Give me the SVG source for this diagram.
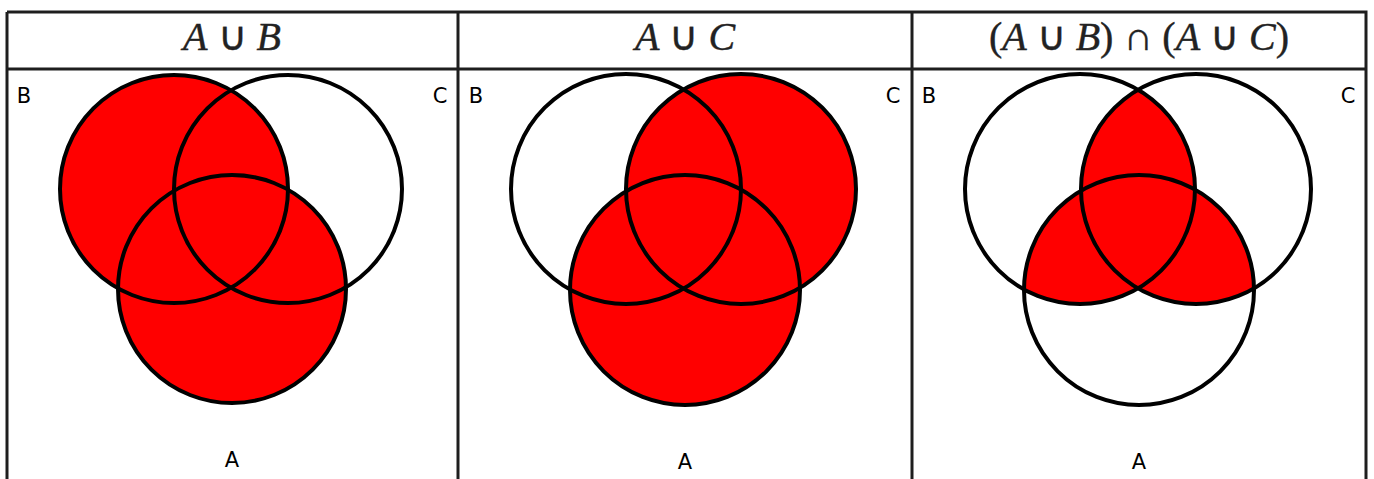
<svg xmlns="http://www.w3.org/2000/svg" width="1374" height="479" viewBox="0 0 1374 479">
<style>
.bg{fill:#fff}
.grid{stroke:#1e1e1e;stroke-width:3;fill:none}
.ring{fill:none;stroke:#000;stroke-width:4}
.red{fill:#ff0000}
.lbl{font-family:"DejaVu Sans",sans-serif;font-size:21px;fill:#000;text-anchor:middle}
.ttl{font-family:"Liberation Serif",serif;font-size:40px;fill:#222;stroke:#222;stroke-width:0.4;text-anchor:middle}
.it{font-style:italic}
</style>
<defs>
<clipPath id="p3A"><circle cx="1139" cy="290" r="115"/></clipPath>
<clipPath id="p3C"><circle cx="1196" cy="189" r="115"/></clipPath>
</defs>
<rect class="bg" x="0" y="0" width="1374" height="479"/>
<g id="table">
<path class="grid" d="M7,12H1366V479M7,12V479M7,69H1366M458,12V479M912,12V479"/>
</g>
<g id="titles">
<text class="ttl" x="232" y="50"><tspan class="it">A</tspan> ∪ <tspan class="it">B</tspan></text>
<text class="ttl" x="685" y="50"><tspan class="it">A</tspan> ∪ <tspan class="it">C</tspan></text>
<text class="ttl" x="1139" y="50">(<tspan class="it">A</tspan> ∪ <tspan class="it">B</tspan>) ∩ (<tspan class="it">A</tspan> ∪ <tspan class="it">C</tspan>)</text>
</g>
<g id="panel1">
<circle class="red" cx="174" cy="189" r="114"/>
<circle class="red" cx="232" cy="289" r="114"/>
<circle class="ring" cx="174" cy="189" r="114"/>
<circle class="ring" cx="288" cy="189" r="114"/>
<circle class="ring" cx="232" cy="289" r="114"/>
<text class="lbl" x="24" y="103">B</text>
<text class="lbl" x="440" y="103">C</text>
<text class="lbl" x="232" y="467">A</text>
</g>
<g id="panel2">
<circle class="red" cx="741" cy="189" r="115"/>
<circle class="red" cx="685" cy="290" r="115"/>
<circle class="ring" cx="626" cy="189" r="115"/>
<circle class="ring" cx="741" cy="189" r="115"/>
<circle class="ring" cx="685" cy="290" r="115"/>
<text class="lbl" x="476" y="103">B</text>
<text class="lbl" x="893" y="103">C</text>
<text class="lbl" x="685" y="469">A</text>
</g>
<g id="panel3">
<circle class="red" cx="1080" cy="189" r="115" clip-path="url(#p3A)"/>
<circle class="red" cx="1196" cy="189" r="115" clip-path="url(#p3A)"/>
<circle class="red" cx="1080" cy="189" r="115" clip-path="url(#p3C)"/>
<circle class="ring" cx="1080" cy="189" r="115"/>
<circle class="ring" cx="1196" cy="189" r="115"/>
<circle class="ring" cx="1139" cy="290" r="115"/>
<text class="lbl" x="929" y="103">B</text>
<text class="lbl" x="1348" y="103">C</text>
<text class="lbl" x="1139" y="469">A</text>
</g>
</svg>
